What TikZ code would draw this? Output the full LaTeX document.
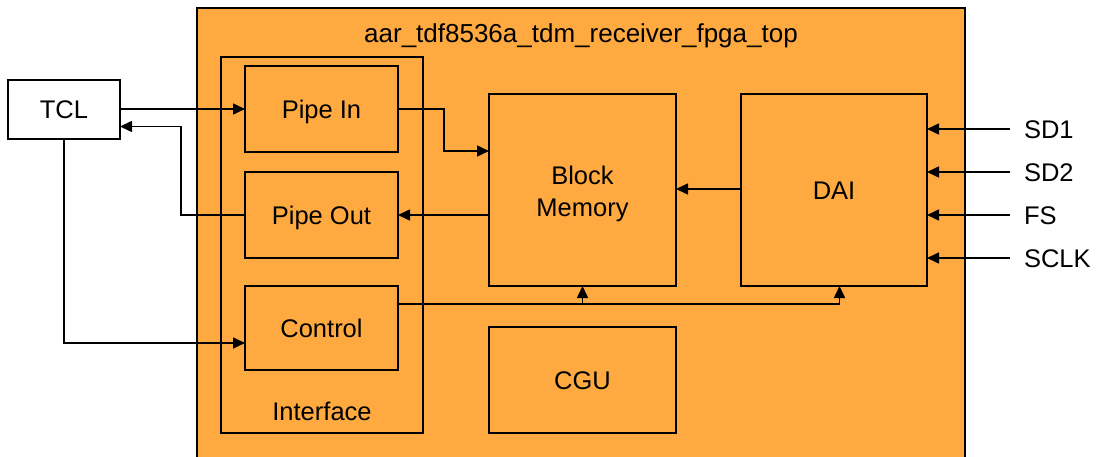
\documentclass[tikz,border=0pt]{standalone}
\usepackage{fontspec}
\setmainfont{Liberation Sans}
\usetikzlibrary{arrows.meta}
\definecolor{fpga}{RGB}{255,170,64}
\begin{document}
\begin{tikzpicture}[x=1pt,y=-1pt,
  every node/.style={inner sep=0pt,outer sep=0pt,font=\fontsize{25.5}{30}\selectfont,text height=18.2pt,text depth=0pt},
  blk/.style={draw,line width=1.6pt,fill=fpga,rectangle,align=center},
  arr/.style={line width=1.6pt,-{Triangle[length=12pt,width=11pt]}},
  lin/.style={line width=1.6pt}]
\clip (0,0) rectangle (1098,457);
\fill[white] (0,0) rectangle (1098,457);
% outer block
\node[blk,minimum width=768pt,minimum height=470pt,anchor=north west] (top) at (197,8) {};
\node[text height=18.6pt] (title) at (581,33) {\fontsize{26}{30}\selectfont aar\_tdf8536a\_tdm\_receiver\_fpga\_top};
% interface
\node[blk,minimum width=202pt,minimum height=376pt] (iface) at (322,245) {};
\node (ifl) at (322,411) {Interface};
\node[blk,minimum width=153pt,minimum height=86pt] (pin) at (321.5,109) {Pipe In};
\node[blk,minimum width=153pt,minimum height=86pt] (pout) at (321.5,215) {Pipe Out};
\node[blk,minimum width=153pt,minimum height=84pt] (ctrl) at (321.5,328) {Control};
% core blocks
\node[blk,minimum width=187pt,minimum height=192pt] (bm) at (582.5,190) {};
\node[align=center,text height=,text depth=] (bml) at (582.5,194) {Block\\[2pt]Memory};
\node[blk,minimum width=186pt,minimum height=192pt] (dai) at (834,190) {DAI};
\node[blk,minimum width=187pt,minimum height=106pt] (cgu) at (582.5,380) {CGU};
% TCL
\node[draw,line width=1.6pt,fill=white,minimum width=112pt,minimum height=59pt] (tcl) at (64,109.5) {TCL};
% helper coordinates
\coordinate (po) at (181,0);
\coordinate (pj) at (444,0);
\coordinate (cl) at (0,304);
% TCL <-> interface
\draw[arr] (tcl.east |- pin.west) -- (pin.west);
\draw[arr] (pout.west) -- (pout.west -| po) |- ([yshift=-17pt]tcl.east);
\draw[arr] (tcl.south) |- ([yshift=-15pt]ctrl.west);
% interface <-> memory
\draw[arr] (pin.east) -- (pin.east -| pj) |- ([yshift=39pt]bm.west);
\draw[arr] (bm.west |- pout.east) -- (pout.east);
\draw[arr] ([yshift=1pt]dai.west) -- ([yshift=1pt]bm.east);
% control bus
\draw[arr] (ctrl.east |- cl) -| ([xshift=5.5pt]dai.south);
\draw[arr] (bm.south |- cl) -- (bm.south);
% external signals
\foreach \n/\lab/\yy in {sa/SD1/129, sb/SD2/172, sc/FS/215, sd/SCLK/258}{
  \coordinate (\n) at (1010,\yy);
  \draw[arr] (\n) -- (\n -| dai.east);
  \node[anchor=west] (\n l) at (1024,\yy) {\lab};
}
\end{tikzpicture}
\end{document}
